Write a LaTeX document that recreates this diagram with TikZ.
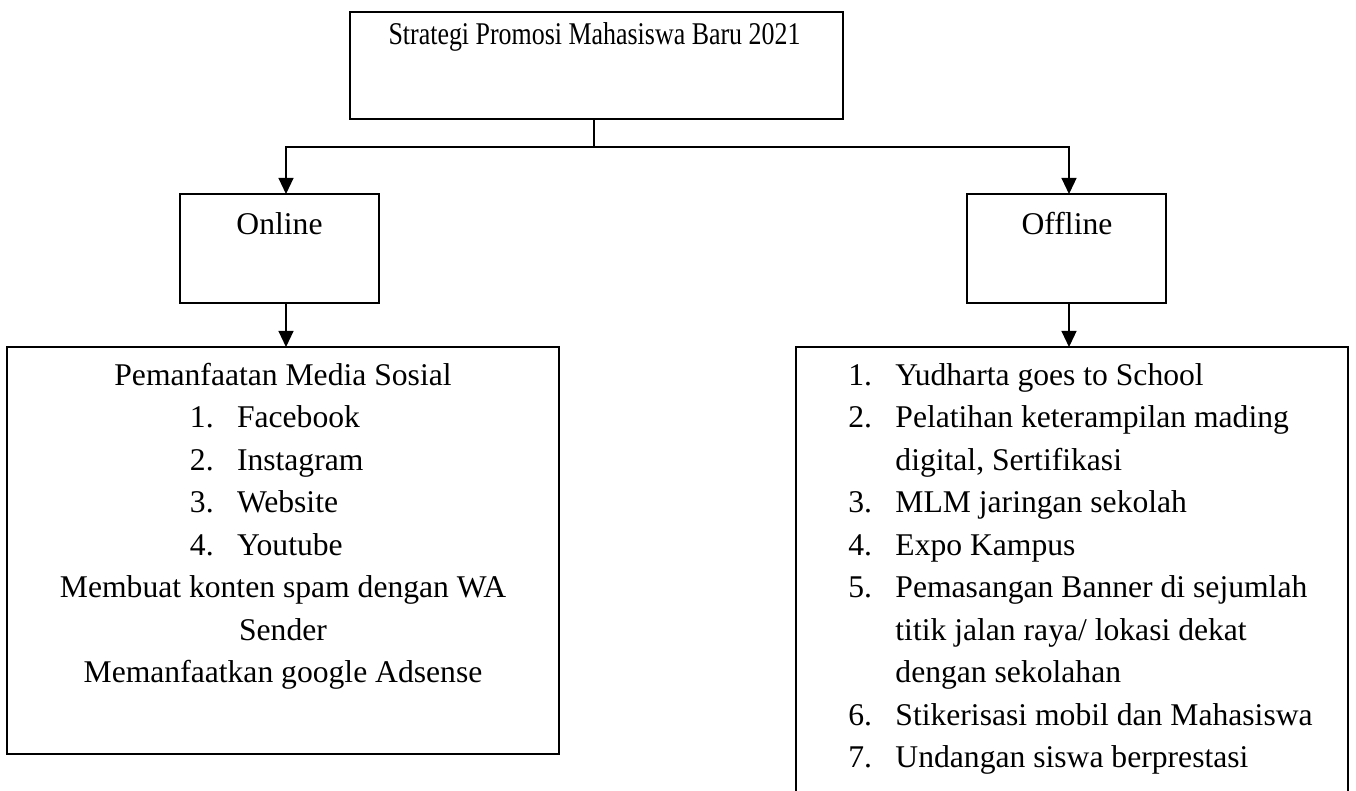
\documentclass[tikz,border=0pt]{standalone}
\usepackage{graphicx}
\usepackage{fontspec}
\setmainfont{Liberation Serif}
\usetikzlibrary{arrows.meta}
\newlength{\numw}\setlength{\numw}{22.9pt}
\newcommand{\itm}[2]{\makebox[\numw][l]{#1}#2}
\tikzset{
  box/.style={draw, line width=0.7pt, inner sep=0pt, outer sep=0pt},
  txt/.style={inner sep=0pt, anchor=base, font=\fontsize{15.4}{20.7}\selectfont},
  arr/.style={line width=0.6pt, -{Triangle[length=7.8pt,width=7.3pt]}},
}

\begin{document}
\begin{tikzpicture}[x=0.487pt, y=-0.487pt]
   \useasboundingbox (0,0) rectangle (1356,790);
   % kotak
   \node[box, minimum width=493*0.487pt, minimum height=107*0.487pt] (strategi) at (596.5,65.5) {};
   \node[box, minimum width=199*0.487pt, minimum height=109*0.487pt] (online) at (279.5,248.5) {};
   \node[box, minimum width=199*0.487pt, minimum height=109*0.487pt] (offline) at (1066.5,248.5) {};
   \node[box, minimum width=552*0.487pt, minimum height=407*0.487pt] (isionline) at (283,550.5) {};
   \node[box, minimum width=552*0.487pt, minimum height=480*0.487pt] (isioffline) at (1072,587) {};
   % teks
   \node[txt] (judul) at (594.5,45) {\scalebox{0.82}[1]{Strategi Promosi Mahasiswa Baru 2021}};
   \node[txt] (ontxt) at (279.5,234) {Online};
   \node[txt] (offtxt) at (1067,234) {Offline};
   \node[txt] (medsos) at (283,385) {\begin{tabular}[t]{@{}c@{}}
      Pemanfaatan Media Sosial\\
      \makebox[90.6pt][l]{\itm{1.}{Facebook}}\\
      \makebox[90.6pt][l]{\itm{2.}{Instagram}}\\
      \makebox[90.6pt][l]{\itm{3.}{Website}}\\
      \makebox[90.6pt][l]{\itm{4.}{Youtube}}\\
      Membuat konten spam dengan WA\\
      Sender\\
      Memanfaatkan google Adsense
   \end{tabular}};
   \node[txt, anchor=base west] (luring) at (848,385) {\begin{tabular}[t]{@{}l@{}}
      \itm{1.}{Yudharta goes to School}\\
      \itm{2.}{Pelatihan keterampilan mading}\\
      \itm{}{digital, Sertifikasi}\\
      \itm{3.}{MLM jaringan sekolah}\\
      \itm{4.}{Expo Kampus}\\
      \itm{5.}{Pemasangan Banner di sejumlah}\\
      \itm{}{titik jalan raya/ lokasi dekat}\\
      \itm{}{dengan sekolahan}\\
      \itm{6.}{Stikerisasi mobil dan Mahasiswa}\\
      \itm{7.}{Undangan siswa berprestasi}
   \end{tabular}};
   % panah
   \coordinate (tengah) at (594,147);
   \coordinate (kiri) at (286,147);
   \coordinate (kanan) at (1069,147);
   \draw[line width=0.6pt] (strategi.south -| tengah) -- (tengah);
   \draw[arr] (tengah) -| (online.north -| kiri);
   \draw[arr] (tengah) -| (offline.north -| kanan);
   \draw[arr] (online.south -| kiri) -- (isionline.north -| kiri);
   \draw[arr] (offline.south -| kanan) -- (isioffline.north -| kanan);
\end{tikzpicture}
\end{document}
